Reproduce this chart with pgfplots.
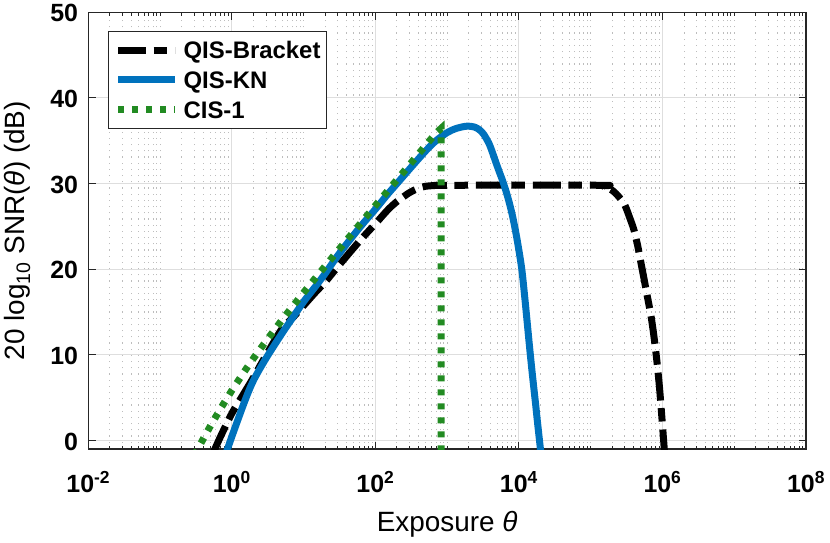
\documentclass[border=0pt]{standalone}
\usepackage{fontspec}
\setmainfont{Liberation Sans}
\usepackage{pgfplots}
\pgfplotsset{compat=1.18}
\definecolor{mblue}{rgb}{0,0.447,0.741}
\definecolor{mgreen}{RGB}{34,139,34}
\definecolor{axgray}{gray}{0.15}
\begin{document}
\begin{tikzpicture}
\begin{axis}[
  at={(0,0)}, anchor=south west,
  scale only axis, width=717.7bp, height=436.7bp,
  xmode=log, log basis x=10,
  xmin=1e-2, xmax=1e8, ymin=-1, ymax=50,
  /pgf/number format/assume math mode=true,
  xtick={1e-2,1,1e2,1e4,1e6,1e8},
  xticklabels={10\textsuperscript{-2},10\textsuperscript{0},10\textsuperscript{2},10\textsuperscript{4},10\textsuperscript{6},10\textsuperscript{8}},
  minor xtick={2e-2,3e-2,4e-2,5e-2,6e-2,7e-2,8e-2,9e-2,1e-1,
    2e-1,3e-1,4e-1,5e-1,6e-1,7e-1,8e-1,9e-1,
    2,3,4,5,6,7,8,9,10,
    20,30,40,50,60,70,80,90,
    200,300,400,500,600,700,800,900,1000,
    2000,3000,4000,5000,6000,7000,8000,9000,
    2e4,3e4,4e4,5e4,6e4,7e4,8e4,9e4,1e5,
    2e5,3e5,4e5,5e5,6e5,7e5,8e5,9e5,
    2e6,3e6,4e6,5e6,6e6,7e6,8e6,9e6,1e7,
    2e7,3e7,4e7,5e7,6e7,7e7,8e7,9e7},
  ytick={0,10,20,30,40,50},
  yticklabels={0,10,20,30,40,50},
  tick align=inside, xtick pos=both, ytick pos=both,
  major tick length=7.5bp, minor tick length=3.5bp,
  tick style={color=axgray, line width=1bp},
  axis line style={color=axgray, line width=1.2bp},
  xmajorgrids, ymajorgrids, xminorgrids,
  major grid style={color=black!13, line width=1bp},
  minor grid style={color=black!26, line width=1bp, dash pattern=on 1.2bp off 5bp},
  tick label style={font=\fontsize{25}{30}\selectfont\bfseries, inner sep=0pt},
  xticklabel style={anchor=base, yshift=-43bp},
  yticklabel style={anchor=east, xshift=-10bp, yshift=-1bp},
  xlabel={Exposure \textit{θ}},
  ylabel={20 log\textsubscript{10} SNR(\textit{θ}) (dB)},
  label style={font=\fontsize{28}{34}\selectfont, inner sep=0pt},
  xlabel style={at={(axis description cs:0.5,-0.1894)}, anchor=base},
  ylabel style={at={(axis description cs:-0.0882,0.5)}, anchor=base, rotate=0},
  legend style={at={(axis description cs:0.0269,0.9572)}, anchor=north west,
    draw=axgray, line width=1bp, fill=white,
    inner xsep=6.5bp, inner ysep=10bp, row sep=12.5bp, column sep=5bp,
    font=\fontsize{24}{28}\selectfont\bfseries,
    nodes={inner sep=0pt, text height=17.2bp, text depth=0bp, anchor=base west}},
  legend cell align=left,
  legend image code/.code={\draw[#1] (0bp,8.6bp) -- (57bp,8.6bp);},
]
\addplot[black, line width=7bp, dash pattern=on 28bp off 7.5bp on 13.5bp off 8bp, line join=round, smooth, tension=0.5] coordinates {
(0.56,-1.3) (0.7,0.5) (1,3.15) (1.5,5.6) (2,7.35) (3,9.95) (5,13.05) (7,14.3)
(10,15.75) (15,17.4) (20,18.5) (30,20.3) (50,22.5) (70,23.9) (100,25.3)
(150,26.95) (200,27.9) (300,28.95) (400,29.45) (500,29.68) (700,29.78) (1000,29.8)
(1.35e5,29.8) (1.5e5,29.7) (2e5,29.2) (2.5e5,28.4) (3e5,27.45) (3.5e5,26.0)
(4e5,24.6) (4.5e5,22.8) (5e5,20.8) (5.5e5,19.0) (6e5,17.3) (7e5,14.3) (8e5,10.7)
(9e5,6.6) (1e6,1.8) (1.07e6,-1.5)
};
\addlegendentry{QIS-Bracket}
\addplot[mblue, line width=7bp, line join=round, smooth, tension=0.5] coordinates {
(0.85,-1.25) (1,0.45) (1.5,4.5) (2,7.0) (3,9.6) (5,12.5) (7,14.3) (10,16.2)
(15,18.1) (20,19.5) (30,21.6) (50,24.0) (70,25.5) (100,27.0) (150,28.8) (200,30.0)
(300,31.7) (500,33.8) (700,35.0) (1000,35.95) (1300,36.4) (1700,36.65) (2000,36.7)
(2400,36.6) (2800,36.3) (3200,35.8) (3600,35.1) (4000,34.3) (5000,32.0) (6000,30.2)
(7000,28.4) (8000,26.5) (9000,24.4) (10000,22.2) (11000,19.9) (12000,16.9)
(13000,13.9) (14000,11.1) (15000,8.6) (16000,6.4) (17000,4.4) (18000,2.4)
(19000,0.6) (20000,-1.1) (20500,-2)
};
\addlegendentry{QIS-KN}
\addplot[mgreen, line width=7bp, dash pattern=on 6bp off 8bp] coordinates {
(0.3,-1.76) (0.35,-0.70) (0.5,1.65) (0.7,3.745) (1,5.836) (1.5,8.07) (2,9.58)
(3,11.61) (5,14.07) (7,15.63) (10,17.26) (15,19.08) (20,20.36) (30,22.16)
(50,24.40) (70,25.87) (100,27.43) (150,29.20) (200,30.45) (300,32.21)
(500,34.44) (700,35.90) (826,36.45) (826,-2)
};
\addlegendentry{CIS-1}
\end{axis}
\pgfresetboundingbox
\path (-88.3bp,-94bp) rectangle (741.7bp,449bp);
\end{tikzpicture}
\end{document}
